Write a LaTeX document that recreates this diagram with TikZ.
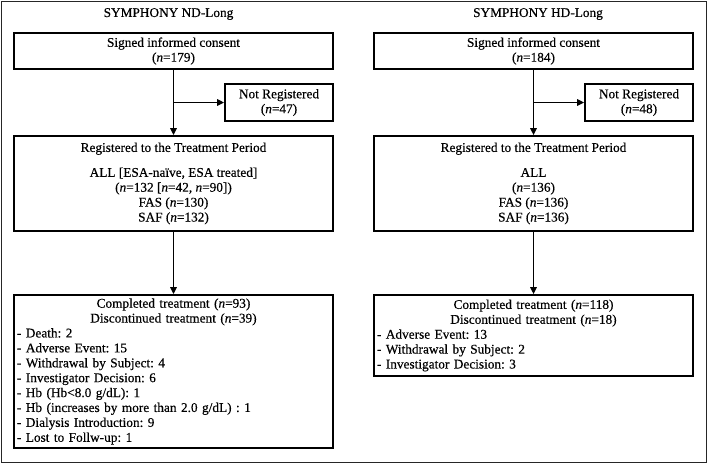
\documentclass[tikz,border=0pt]{standalone}
\usepackage{fontspec}
\setmainfont{Liberation Serif}[FakeBold=0.4]
\usetikzlibrary{arrows.meta}
\newcommand\txtfont{\fontsize{13.3}{14.9}\selectfont\frenchspacing}
\begin{document}
\begin{tikzpicture}[x=1pt,y=-1pt,
  box/.style={draw=black,line width=1.8pt,inner sep=0pt,align=center,font=\txtfont},
  listbox/.style={draw=black,line width=1.8pt,inner xsep=3pt,inner ysep=0pt,text width=313pt,font=\txtfont},
  ttl/.style={inner sep=0pt,font=\txtfont},
  arr/.style={line width=1.5pt,-{Triangle[length=7pt,width=6.5pt]}}]
\useasboundingbox (0,0) rectangle (709,464);
\draw[line width=1.8pt,draw=black!85] (1.5,1.5) rectangle (706.5,462.5);

% ---------- left ----------
\node[ttl] (tL) at (168.5,14) {SYMPHONY ND-Long};
\node[box,minimum width=319pt,minimum height=36pt] (b1L) at (173.5,51)
  {Signed informed consent\\(\textit{n}=179)};
\node[box,minimum width=108pt,minimum height=37pt] (nrL) at (279,102.5)
  {Not Registered\\(\textit{n}=47)};
\node[box,minimum width=319pt,minimum height=95pt] (b2L) at (173.5,183.5)
  {Registered to the Treatment Period\\[10pt]ALL [ESA-naïve, ESA treated]\\(\textit{n}=132 [\textit{n}=42, \textit{n}=90])\\FAS (\textit{n}=130)\\SAF (\textit{n}=132)};
\node[listbox,minimum height=153pt] (b3L) at (173.5,371.5)
  {\centering Completed treatment (\textit{n}=93)\\Discontinued treatment (\textit{n}=39)\par
   \raggedright - Death: 2\\- Adverse Event: 15\\- Withdrawal by Subject: 4\\- Investigator Decision: 6\\- Hb (Hb<8.0 g/dL): 1\\- Hb (increases by more than 2.0 g/dL) : 1\\- Dialysis Introduction: 9\\- Lost to Follw-up: 1};
\coordinate (jL) at (b1L.south |- nrL.west);
\draw[arr] (b1L.south) -- (b2L.north);
\draw[arr] (jL) -- (nrL.west);
\draw[arr] (b2L.south) -- (b3L.north);

% ---------- right ----------
\node[ttl] (tR) at (538,14) {SYMPHONY HD-Long};
\node[box,minimum width=319pt,minimum height=36pt] (b1R) at (533.5,51)
  {Signed informed consent\\(\textit{n}=184)};
\node[box,minimum width=108pt,minimum height=37pt] (nrR) at (639,102.5)
  {Not Registered\\(\textit{n}=48)};
\node[box,minimum width=319pt,minimum height=95pt] (b2R) at (533.5,183.5)
  {Registered to the Treatment Period\\[10pt]ALL\\(\textit{n}=136)\\FAS (\textit{n}=136)\\SAF (\textit{n}=136)};
\node[listbox,minimum height=81pt] (b3R) at (533.5,335.5)
  {\centering Completed treatment (\textit{n}=118)\\Discontinued treatment (\textit{n}=18)\par
   \raggedright - Adverse Event: 13\\- Withdrawal by Subject: 2\\- Investigator Decision: 3};
\coordinate (jR) at (b1R.south |- nrR.west);
\draw[arr] (b1R.south) -- (b2R.north);
\draw[arr] (jR) -- (nrR.west);
\draw[arr] (b2R.south) -- (b3R.north);
\end{tikzpicture}
\end{document}
